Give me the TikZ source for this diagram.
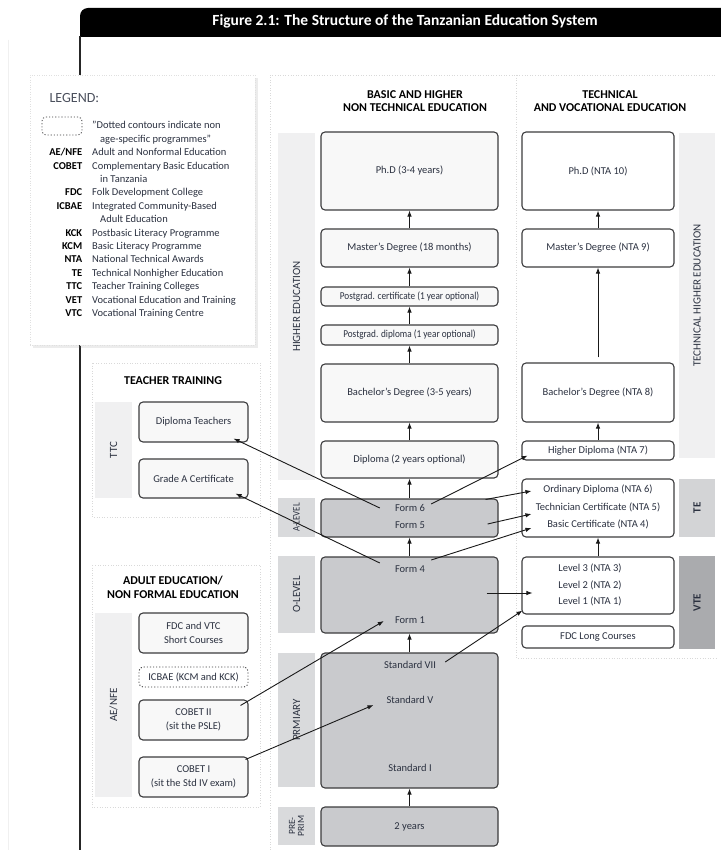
\documentclass[tikz,border=0pt]{standalone}
\usepackage{fontspec}
\setmainfont{Carlito}
\newfontfamily\narrowfont{Carlito}[FakeStretch=0.88]
\usepackage{array}
\usetikzlibrary{shapes,arrows,arrows.meta,positioning,fit,calc,shadows}
\usepackage{xcolor}
\definecolor{edgegray}{HTML}{3C3C3E}
\definecolor{inkblue}{HTML}{2B3140}
\definecolor{formgray}{HTML}{C9CACD}
\definecolor{paper}{HTML}{F8F8F8}
\definecolor{bandpale}{HTML}{F0F0F1}
\definecolor{bandgray}{HTML}{D9DADC}
\definecolor{bandte}{HTML}{D3D4D6}
\definecolor{bandvte}{HTML}{AAABAE}

\begin{document}
\begin{tikzpicture}[x=1pt, y=-1pt, font=\fontsize{10.5}{12}\selectfont]
  \tikzstyle{box} = [rectangle, draw=edgegray, line width=1.1pt, rounded corners=4pt, fill=paper, text=inkblue, align=center, inner sep=1pt]
  \tikzstyle{formbox} = [box, fill=formgray]
  \tikzstyle{openbox} = [box, fill=white]
  \tikzstyle{dotbox} = [box, fill=white, dotted, line width=0.9pt]
  \tikzstyle{band} = [rectangle, rotate=90, text=inkblue, font=\fontsize{11}{11}\selectfont, inner sep=0pt, align=center]
  \tikzstyle{inbox} = [text=inkblue, inner sep=1pt]
  \tikzstyle{head} = [font=\bfseries\fontsize{12}{13.5}\selectfont, align=center, text=black]
  \tikzstyle{arrow} = [line width=0.9pt, draw=black!90, -{Latex[length=6pt,width=4.5pt]}]
  \tikzstyle{frame} = [draw=black!15, dotted, line width=0.6pt]

  \useasboundingbox (0,0) rectangle (720,850);
  \fill[white] (0,0) rectangle (720,850);
  \draw[black!6] (8,40) -- (8,850);

  % title bar and page edge
  \fill[black] (80,37) [rounded corners=8pt] -- (80,8) -- (730,8) [sharp corners] -- (730,37) -- cycle;
  \node[text=white, font=\bfseries\fontsize{15.5}{17}\selectfont] (title) at (405,21) {Figure 2.1: The Structure of the Tanzanian Education System};
  \draw[line width=2pt, black!85] (80,36) -- (80,850);

  % faint frames
  \draw[frame] (270,850) -- (270,75) -- (716,75);
  \draw[frame] (516,75) -- (516,658) -- (716,658);
  \draw[frame] (92,363) rectangle (260,517);
  \draw[frame] (92,565) rectangle (260,807);

  % legend
  \node[fill=white, draw=black!12, dotted, drop shadow={shadow xshift=3pt, shadow yshift=-3pt, opacity=0.15}, minimum width=225pt, minimum height=270pt] (legend) at (142.5,210) {};
  \node[anchor=west, font=\fontsize{14}{14}\selectfont, text=inkblue!85] (legtitle) at (46,98) {LEGEND:};
  \node[dotbox, minimum width=40pt, minimum height=18pt, line width=0.8pt] (legdot) at (62,126) {};
  \node[anchor=base west, inner sep=0pt, font=\fontsize{10.5}{13.4}\selectfont, text=inkblue] (legtext) at (40,129) {%
    \begin{tabular}[t]{@{}>{\raggedleft\arraybackslash\bfseries\leavevmode\color{black}}p{42pt}@{\hspace{10pt}}l@{}}
          & "Dotted contours indicate non \\
          & \hspace{8pt}age-specific programmes" \\
    AE/NFE & Adult and Nonformal Education \\
    COBET & Complementary Basic Education \\
          & \hspace{8pt}in Tanzania \\
    FDC   & Folk Development College \\
    ICBAE & Integrated Community-Based \\
          & \hspace{8pt}Adult Education \\
    KCK   & Postbasic Literacy Programme \\
    KCM   & Basic Literacy Programme \\
    NTA   & National Technical Awards \\
    TE    & Technical Nonhigher Education \\
    TTC   & Teacher Training Colleges \\
    VET   & Vocational Education and Training \\
    VTC   & Vocational Training Centre
    \end{tabular}};

  % column heads
  \node[head] (basichead) at (415,101) {BASIC AND HIGHER\\NON TECHNICAL EDUCATION};
  \node[head] (techhead) at (610,101) {TECHNICAL\\AND VOCATIONAL EDUCATION};

  % level bands
  \node[band, fill=bandpale, minimum width=347pt, minimum height=37pt] (higherband) at (296.5,306.5) {HIGHER EDUCATION};
  \node[band, fill=bandgray, minimum width=39pt, minimum height=37pt, font=\narrowfont\fontsize{10}{10}\selectfont] (aband) at (296.5,517.5) {A-LEVEL};
  \node[band, fill=bandgray, minimum width=77pt, minimum height=37pt] (oband) at (296.5,594.5) {O-LEVEL};
  \node[band, fill=bandgray, minimum width=134pt, minimum height=37pt] (pband) at (296.5,720) {PRMIARY};
  \node[band, fill=bandgray, minimum width=38pt, minimum height=37pt, font=\fontsize{9.5}{9}\selectfont] (ppband) at (296.5,826) {PRE-\\PRIM};
  \node[band, fill=bandpale, minimum width=325pt, minimum height=36pt] (techband) at (697,295.5) {TECHNICAL HIGHER EDUCATION};
  \node[band, fill=bandte, minimum width=58pt, minimum height=36pt, font=\bfseries\fontsize{11}{11}\selectfont] (teband) at (697,508) {TE};
  \node[band, fill=bandvte, minimum width=93pt, minimum height=36pt, font=\bfseries\fontsize{11}{11}\selectfont] (vteband) at (697,602.5) {VTE};

  % basic and higher non technical education
  \node[box, minimum width=177pt, minimum height=78pt] (phd) at (409.5,171) {Ph.D (3-4 years)};
  \node[box, minimum width=177pt, minimum height=38pt] (masters) at (409.5,248) {Master's Degree (18 months)};
  \node[box, minimum width=177pt, minimum height=19pt, font=\narrowfont\fontsize{10.5}{12}\selectfont] (pgcert) at (409.5,296.5) {Postgrad. certificate (1 year optional)};
  \node[box, minimum width=177pt, minimum height=20pt, font=\narrowfont\fontsize{10.5}{12}\selectfont] (pgdip) at (409.5,335) {Postgrad. diploma (1 year optional)};
  \node[box, minimum width=177pt, minimum height=58pt] (bach) at (409.5,393) {Bachelor's Degree (3-5 years)};
  \node[box, minimum width=177pt, minimum height=37pt] (dip) at (409.5,459.5) {Diploma (2 years optional)};
  \node[formbox, minimum width=177pt, minimum height=38pt] (alevel) at (409.5,518) {};
  \node[inbox] (form6) at (410,508) {Form 6};
  \node[inbox] (form5) at (410,525) {Form 5};
  \node[formbox, minimum width=177pt, minimum height=76pt] (olevel) at (409.5,595) {};
  \node[inbox] (form4) at (410,569) {Form 4};
  \node[inbox] (form1) at (410,620) {Form 1};
  \node[formbox, minimum width=177pt, minimum height=135pt] (primary) at (409.5,720.5) {};
  \node[inbox] (std7) at (410,665) {Standard VII};
  \node[inbox] (std5) at (410,700) {Standard V};
  \node[inbox] (std1) at (410,768) {Standard I};
  \node[formbox, minimum width=177pt, minimum height=39pt] (preprim) at (409.5,826.5) {2 years};
  \foreach \a/\b in {masters/phd, pgcert/masters, pgdip/pgcert, bach/pgdip, dip/bach, alevel/dip, olevel/alevel, primary/olevel, preprim/primary}
    \draw[arrow] (\a) -- (\b);

  % technical and vocational education
  \node[openbox, minimum width=152pt, minimum height=78pt] (phdT) at (598,171) {Ph.D (NTA 10)};
  \node[openbox, minimum width=152pt, minimum height=38pt] (mastersT) at (598,248) {Master's Degree (NTA 9)};
  \node[openbox, minimum width=152pt, minimum height=59pt] (bachT) at (598,392.5) {Bachelor's Degree (NTA 8)};
  \node[openbox, minimum width=152pt, minimum height=19pt] (hdipT) at (598,450.5) {Higher Diploma (NTA 7)};
  \node[openbox, minimum width=152pt, minimum height=58pt] (tebox) at (598,508) {};
  \node[inbox] (ordip) at (598,490) {Ordinary Diploma (NTA 6)};
  \node[inbox] (techcert) at (598,507) {Technician Certificate (NTA 5)};
  \node[inbox] (basiccert) at (598,524) {Basic Certificate (NTA 4)};
  \node[openbox, minimum width=152pt, minimum height=57pt] (vtebox) at (598,585.5) {};
  \node[inbox] (lvl3) at (590,568) {Level 3 (NTA 3)};
  \node[inbox] (lvl2) at (590,585) {Level 2 (NTA 2)};
  \node[inbox] (lvl1) at (590,601) {Level 1 (NTA 1)};
  \node[openbox, minimum width=152pt, minimum height=22pt] (fdclong) at (598,637) {FDC Long Courses};
  \draw[arrow] (mastersT) -- (phdT);
  \draw[arrow, shorten <=5pt] (bachT) -- (mastersT);
  \draw[arrow] (hdipT) -- (bachT);
  \draw[arrow] (vtebox) -- (tebox);

  % teacher training
  \node[head] (teachhead) at (173,381) {TEACHER TRAINING};
  \node[band, fill=bandpale, minimum width=96pt, minimum height=37pt] (ttcband) at (113.5,450) {TTC};
  \node[box, minimum width=109pt, minimum height=40pt] (diptea) at (193.5,422) {Diploma Teachers};
  \node[box, minimum width=109pt, minimum height=39pt] (gradea) at (193.5,478.5) {Grade A Certificate};

  % adult education
  \node[head] (adulthead) at (173,587.5) {ADULT EDUCATION/\\NON FORMAL EDUCATION};
  \node[band, fill=bandpale, minimum width=184pt, minimum height=37pt] (aeband) at (113.5,705) {AE/NFE};
  \node[box, minimum width=109pt, minimum height=40pt, font=\fontsize{10.5}{14}\selectfont] (fdcshort) at (193.5,633) {FDC and VTC\\Short Courses};
  \node[dotbox, minimum width=109pt, minimum height=20pt] (icbae) at (193.5,677) {ICBAE (KCM and KCK)};
  \node[box, minimum width=109pt, minimum height=40pt, font=\fontsize{10.5}{14}\selectfont] (cobet2) at (193.5,720) {COBET II\\(sit the PSLE)};
  \node[box, minimum width=109pt, minimum height=40pt, font=\fontsize{10.5}{14}\selectfont] (cobet1) at (193.5,777) {COBET I\\(sit the Std IV exam)};

  % pathways
  \draw[arrow] ($(form6.west)+(-14,0)$) -- ($(diptea.south east)+(-15,-4)$);
  \draw[arrow] ($(form4.west)+(-14,-6)$) -- ($(gradea.south east)+(-13,-5)$);
  \draw[arrow] ($(form6.east)+(5,-4)$) -- ($(hdipT.south west)+(6,-5)$);
  \draw[arrow] ($(alevel.north east)+(-13,1)$) -- ($(tebox.west)+(10,-17)$);
  \draw[arrow] ($(alevel.east)+(-11,6)$) -- ($(tebox.west)+(10,6)$);
  \draw[arrow] ($(form4.east)+(5,-9)$) -- ($(tebox.west)+(10,20)$);
  \draw[arrow] ($(olevel.east)+(-12,-2)$) -- ($(vtebox.west)+(11,7.5)$);
  \draw[arrow] ($(std7.east)+(8,-3)$) -- ($(vtebox.south west)+(1,-4)$);
  \draw[arrow] ($(cobet2.north east)+(-8,6)$) -- ($(form1.west)+(-10,1)$);
  \draw[arrow] ($(cobet1.north east)+(-3,3)$) -- ($(std5.west)+(-12,5)$);
\end{tikzpicture}
\end{document}
